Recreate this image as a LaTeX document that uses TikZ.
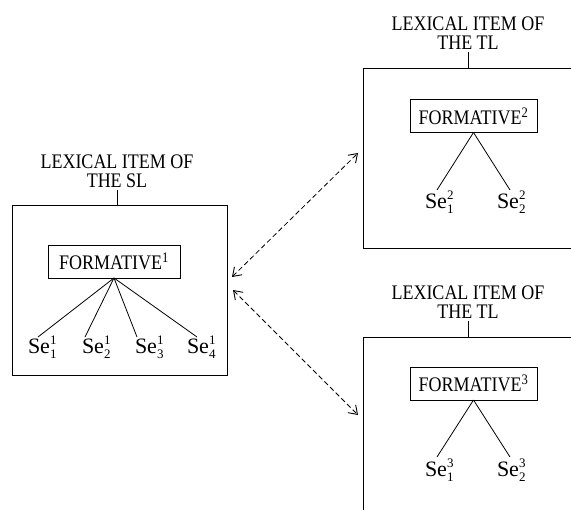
\documentclass[tikz,border=0pt]{standalone}
\usepackage{fontspec}
\setmainfont{Liberation Serif}
\usetikzlibrary{arrows.meta,calc}
\newcommand{\SeLab}[2]{Se\rlap{\raisebox{9pt}{\fontsize{13}{13}\selectfont #1}}\raisebox{-5pt}{\fontsize{13}{13}\selectfont #2}}
\newcommand{\VS}[1]{\scalebox{1}[1.15]{#1}}
\begin{document}
\begin{tikzpicture}[x=1pt,y=-1pt,
  every node/.style={inner sep=0pt,outer sep=0pt},
  lbl/.style={align=center,font=\fontsize{18}{19}\selectfont},
  frame/.style={draw,line width=0.9pt},
  formbox/.style={draw,line width=0.9pt,font=\fontsize{18}{20}\selectfont,minimum height=33pt},
  selab/.style={anchor=base west,font=\fontsize{22}{22}\selectfont},
  fan/.style={line width=0.8pt},
  tick/.style={line width=0.9pt},
  link/.style={dash pattern=on 5pt off 3pt,line width=0.8pt,{Straight Barb[length=8pt,width=11pt,line width=0.9pt]}-{Straight Barb[length=8pt,width=11pt,line width=0.9pt]}}
]
\clip (0,0) rectangle (571,510);
\useasboundingbox (0,0) rectangle (571,510);

% left box
\node[frame,minimum width=215pt,minimum height=170pt] (boxL) at (119.5,290) {};
\node[lbl,anchor=base] (labL) at (117,188) {\VS{LEXICAL ITEM OF}\\\VS{THE SL}};
\draw[tick] (labL.south) ++(0,2) coordinate (tL) -- (tL |- boxL.north);
\node[formbox,minimum width=132pt] (fL) at (114,261.5) {\VS{FORMATIVE\textsuperscript{1}}};
\node[selab] (s11) at (28,354) {\SeLab{1}{1}};
\node[selab] (s12) at (82,354) {\SeLab{1}{2}};
\node[selab] (s13) at (135,354) {\SeLab{1}{3}};
\node[selab] (s14) at (187,354) {\SeLab{1}{4}};
\draw[fan] (fL.south) -- ($(s11.base west)+(10,-17)$);
\draw[fan] (fL.south) -- ($(s12.base west)+(3,-17)$);
\draw[fan] (fL.south) -- ($(s13.base west)+(2,-17)$);
\draw[fan] (fL.south) -- ($(s14.base west)+(10,-17)$);

% top right box
\node[frame,minimum width=260pt,minimum height=180pt] (boxA) at (493,158) {};
\node[lbl,anchor=base] (labA) at (468,50) {\VS{LEXICAL ITEM OF}\\\VS{THE TL}};
\draw[tick] (labA.south) ++(0,2) coordinate (tA) -- (tA |- boxA.north);
\node[formbox,minimum width=127pt] (fA) at (473.5,116) {\VS{FORMATIVE\textsuperscript{2}}};
\node[selab] (s21) at (425,209) {\SeLab{2}{1}};
\node[selab] (s22) at (497,209) {\SeLab{2}{2}};
\draw[fan] (fA.south) -- ($(s21.base west)+(12,-19)$);
\draw[fan] (fA.south) -- ($(s22.base west)+(13,-19)$);

% bottom right box
\node[frame,minimum width=260pt,minimum height=220pt] (boxB) at (493,447) {};
\node[lbl,anchor=base] (labB) at (468,319) {\VS{LEXICAL ITEM OF}\\\VS{THE TL}};
\draw[tick] (labB.south) ++(0,2) coordinate (tB) -- (tB |- boxB.north);
\node[formbox,minimum width=127pt] (fB) at (473.5,383.5) {\VS{FORMATIVE\textsuperscript{3}}};
\node[selab] (s31) at (425,477) {\SeLab{3}{1}};
\node[selab] (s32) at (497,477) {\SeLab{3}{2}};
\draw[fan] (fB.south) -- ($(s31.base west)+(12,-20)$);
\draw[fan] (fB.south) -- ($(s32.base west)+(13,-20)$);

% dashed links
\coordinate (pL1) at ($(boxL.east)+(5,-13)$);
\coordinate (pL2) at ($(boxL.east)+(6,0)$);
\coordinate (pA) at ($(boxA.west)+(-5,-5)$);
\coordinate (pB) at ($(boxB.west)+(-5,-32)$);
\draw[link] (pL1) -- (pA);
\draw[link] (pL2) -- (pB);
\end{tikzpicture}
\end{document}
